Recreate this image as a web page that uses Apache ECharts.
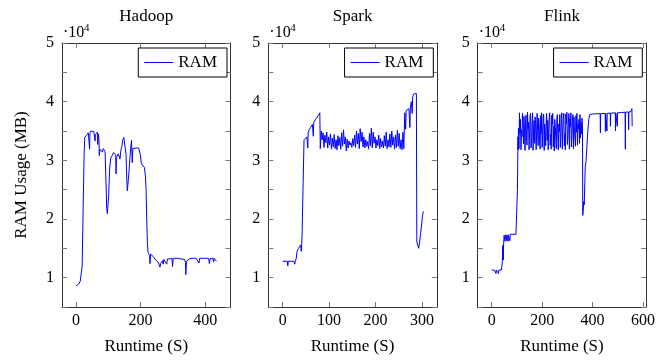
<!DOCTYPE html>
<html>
<head>
<meta charset="utf-8">
<script src="https://cdn.jsdelivr.net/npm/echarts@6/dist/echarts.min.js"></script>
<style>
  html, body { margin: 0; padding: 0; background: #fff; }
  #chart { width: 665px; height: 360px; }
</style>
</head>
<body>
<div id="chart"></div>
<script>
const titles = ["Hadoop", "Spark", "Flink"];
const xTicks = [[0, 200, 400], [0, 100, 200, 300], [0, 200, 400, 600]];
const xRanges = [[-43.5, 478.5], [-31, 332], [-55.7, 612.7]];
const yTickLabels = [10000, 20000, 30000, 40000, 50000];

// [runtime (s), RAM (MB)]
const hadoopRam = [
  [0, 8600], [4, 8550], [8, 8900], [13, 9400], [16, 9700], [19, 12000], [22, 22000], [25, 31000],
  [27, 33900], [29, 34100], [33, 34300], [36, 34500], [38, 34700], [40, 34400], [42, 31900], [43, 34600],
  [46, 35000], [49, 35100], [52, 35100], [55, 34900], [57, 34800], [59, 33300], [60, 34400], [62, 34700],
  [64, 34200], [66, 34800], [67, 32700], [69, 34500], [71, 33600], [72, 30800], [74, 31900], [77, 31800],
  [80, 31900], [82, 31400], [84, 32000], [86, 31800], [90, 31500], [93, 26000], [95, 21800], [97, 20900],
  [99, 20600], [101, 24000], [104, 28500], [107, 30300], [109, 30400], [112, 30800], [116, 31300], [120, 31200],
  [123, 31000], [124, 27700], [125, 30500], [128, 30800], [131, 31100], [134, 31400], [136, 30200], [139, 31800],
  [142, 32400], [145, 33500], [148, 33900], [151, 34100], [153, 33900], [155, 31000], [157, 27000], [159, 24800],
  [161, 25000], [164, 28000], [167, 30500], [170, 32500], [172, 33400], [174, 29600], [176, 32000], [178, 32300],
  [182, 32200], [186, 32100], [190, 32200], [194, 32100], [197, 31800], [199, 31000], [202, 29600], [205, 29200],
  [209, 29000], [212, 28800], [215, 27200], [217, 25000], [219, 20000], [221, 16000], [223, 14300], [226, 14200],
  [228, 13800], [229, 12400], [231, 14000], [235, 13900], [239, 13600], [243, 13300], [247, 13000], [251, 12800],
  [255, 12600], [258, 12500], [260, 11800], [262, 12400], [265, 12700], [268, 12900], [270, 12300], [272, 13100],
  [275, 13200], [278, 13100], [281, 12300], [283, 13200], [286, 13300], [290, 13200], [294, 13300], [297, 13300],
  [299, 11900], [301, 13300], [306, 13300], [312, 13300], [318, 13200], [324, 13200], [330, 13200], [336, 13100],
  [339, 12600], [340, 10500], [342, 12800], [345, 12700], [348, 13000], [351, 13200], [354, 13300], [360, 13300],
  [366, 13300], [372, 13300], [377, 13300], [381, 12500], [383, 13300], [390, 13300], [396, 13300], [402, 13300],
  [408, 13300], [411, 13300], [413, 12400], [415, 13200], [420, 13400], [424, 13300], [426, 12700], [428, 13300],
  [432, 13500], [435, 12800]
];

const sparkRam = [
  [0, 12800], [5, 12800], [10, 12800], [11, 12000], [12, 12800], [18, 12800], [24, 12800], [26, 12300],
  [27, 12800], [29, 13200], [31, 14500], [34, 15000], [37, 15300], [39, 15600], [40, 14500], [41, 15600],
  [42, 18000], [44, 26000], [46, 33500], [48, 33700], [50, 33800], [52, 34000], [54, 32100], [55, 34800],
  [57, 35200], [60, 35600], [62, 35900], [64, 36100], [66, 34100], [67, 36500], [70, 36800], [72, 37100],
  [74, 37300], [76, 37600], [78, 37900], [80, 38100], [81, 32000],
  [83, 35000], [85, 33500], [87, 34700], [89, 32200], [91, 34300], [93, 33000], [95, 34800], [97, 32100],
  [99, 34000], [101, 32600], [103, 34500], [105, 31900], [107, 33800], [109, 32300], [111, 34400], [113, 32000],
  [115, 33500], [117, 31800], [119, 34200], [121, 32500], [123, 33900], [125, 31900], [127, 34700], [129, 32400],
  [131, 35200], [133, 32800], [135, 34000], [137, 31600], [139, 33600], [141, 32100], [143, 33300], [145, 32600],
  [147, 33000], [149, 32200], [151, 33700], [153, 32500], [155, 34300], [157, 32200], [159, 35000], [161, 32800],
  [163, 34600], [165, 32000], [167, 35400], [169, 33200], [171, 34800], [173, 32300], [175, 34000], [177, 32100],
  [179, 33500], [181, 32400], [183, 33200], [185, 31900], [187, 34600], [189, 32500], [191, 35500], [193, 32100],
  [195, 34800], [197, 32900], [199, 34000], [201, 32100], [203, 33500], [205, 32500], [207, 34300], [209, 32000],
  [211, 33700], [213, 32300], [215, 33300], [217, 32100], [219, 34200], [221, 32400], [223, 34800], [225, 32000],
  [227, 33500], [229, 32300], [231, 34500], [233, 32200], [235, 35000], [237, 32600], [239, 34000], [241, 31900],
  [243, 34300], [245, 32200], [247, 35100], [249, 32400], [251, 34600], [253, 32000], [255, 33500], [257, 31800],
  [259, 34800], [261, 32000], [262, 31700],
  [263, 38100], [265, 35300], [266, 38500], [268, 38700], [270, 38800], [272, 38800], [274, 35600], [275, 38900],
  [277, 40000], [279, 38000], [280, 40800], [282, 41300], [285, 41400], [288, 41400], [289, 16100], [291, 15800],
  [293, 15000], [295, 16100], [297, 17500], [299, 18800], [301, 20500], [303, 21300]
];

const flinkRam = [
  [0, 11300], [5, 11300], [10, 11300], [15, 11300], [17, 10700], [18, 11300], [24, 11300], [27, 10700],
  [28, 11300], [34, 11300], [38, 11300], [40, 11900], [42, 12800], [44, 15500], [46, 13000], [47, 15600],
  [49, 17200], [51, 17300], [53, 16200], [54, 17300], [57, 17300], [59, 16300], [60, 17300], [63, 17300],
  [65, 16200], [66, 17300], [70, 17400], [72, 16300], [73, 17400], [78, 17400], [84, 17400], [90, 17400],
  [96, 17400], [100, 17400], [102, 25000], [104, 34000], [105, 31800],
  [106, 35500], [108, 32000], [110, 38100], [112, 34600], [114, 37000], [116, 31800], [118, 35200], [120, 34000],
  [122, 38000], [124, 36300], [126, 32800], [128, 37500], [130, 34900], [132, 31700], [134, 36000], [136, 37700],
  [138, 33200], [140, 32600], [142, 38200], [144, 35400], [146, 36500], [148, 31800], [150, 34300], [152, 37500],
  [154, 38000], [156, 32100], [158, 33900], [160, 36200], [162, 38100], [164, 31700], [166, 35400], [168, 36800],
  [170, 32900], [172, 37400], [174, 36300], [176, 31800], [178, 34800], [180, 38000], [182, 35000], [184, 32500],
  [186, 37200], [188, 36100], [190, 33000], [192, 31900], [194, 37600], [196, 34500], [198, 38100], [200, 32200],
  [202, 34700], [204, 37300], [206, 37900], [208, 31700], [210, 36200], [212, 35000], [214, 32500], [216, 37000],
  [218, 38000], [220, 33400], [222, 36800], [224, 31800], [226, 35300], [228, 37300], [230, 38100], [232, 32600],
  [234, 34400], [236, 31900], [238, 37700], [240, 36100], [242, 38000], [244, 32300], [246, 35800], [248, 31600],
  [250, 37000], [252, 35600], [254, 33900], [256, 32000], [258, 36600], [260, 37800], [262, 34500], [264, 31800],
  [266, 36200], [268, 34900], [270, 37800], [272, 32200], [274, 33900], [276, 37000], [278, 38100], [280, 31900],
  [282, 35300], [284, 37100], [286, 38000], [288, 32500], [290, 34500], [292, 31800], [294, 37900], [296, 36200],
  [298, 38200], [300, 32700], [302, 33800], [304, 36400], [306, 38000], [308, 31900], [310, 37100], [312, 35700],
  [314, 38100], [316, 32300], [318, 34300], [320, 36600], [322, 37800], [324, 32000], [326, 37400], [328, 35500],
  [330, 33700], [332, 32400], [334, 37600], [336, 34800], [338, 38000], [340, 32600], [342, 36200], [344, 35300],
  [346, 37000], [348, 32900], [350, 37800], [352, 33800], [354, 36500], [356, 34500], [358, 37200],
  [360, 35500], [361, 20600], [363, 21500], [365, 23000], [367, 22400], [369, 26000], [371, 29000], [374, 29800],
  [377, 32000], [381, 35000], [385, 37000], [389, 37800], [400, 37900], [420, 37950], [430, 37950], [431, 34700],
  [432, 37950], [450, 38000], [451, 34900], [452, 38000], [456, 38000], [457, 35000], [458, 38000], [465, 38050],
  [470, 38050], [471, 35800], [472, 38050], [490, 38100], [491, 35000], [492, 38100], [497, 38100], [498, 35800],
  [499, 38100], [515, 38150], [529, 38200], [530, 31900], [531, 38200], [542, 38250], [543, 35200], [544, 38250],
  [552, 38300], [555, 38300], [556, 38800], [557, 38500], [557, 35800]
];

const seriesData = [hadoopRam, sparkRam, flinkRam];

const font = "'Liberation Serif', serif";
const gridLeft = [62, 268.3, 477.7];
const gridWidth = 168.5;
const legendRight = [438, 231.7, 22.7];
const frameColor = "#333";
const tickColor = "#777";

const chart = echarts.init(document.getElementById("chart"));

const yMinorTicks = [];
for (let v = 5000; v <= 50000; v += 5000) yMinorTicks.push(v);

const grids = gridLeft.map((left) => ({ left, top: 43, width: gridWidth, height: 267 }));

const bottomAxes = titles.map((_, i) => ({
  type: "value",
  gridIndex: i,
  min: xRanges[i][0],
  max: xRanges[i][1],
  name: "Runtime (S)",
  nameLocation: "middle",
  nameGap: 31,
  nameTextStyle: { fontFamily: font, fontSize: 17, color: "#000" },
  axisLine: { show: true, onZero: false, lineStyle: { color: frameColor, width: 1 } },
  axisTick: { show: true, inside: true, length: 5, customValues: xTicks[i], lineStyle: { color: tickColor } },
  axisLabel: { customValues: xTicks[i], fontFamily: font, fontSize: 16, color: "#000", margin: 6 },
  splitLine: { show: false },
}));

const topAxes = titles.map((_, i) => ({
  type: "value",
  gridIndex: i,
  position: "top",
  min: xRanges[i][0],
  max: xRanges[i][1],
  axisLine: { show: true, onZero: false, lineStyle: { color: frameColor, width: 1 } },
  axisTick: { show: true, inside: true, length: 5, customValues: xTicks[i], lineStyle: { color: tickColor } },
  axisLabel: { show: false },
  splitLine: { show: false },
}));

const leftAxes = titles.map((_, i) => ({
  type: "value",
  gridIndex: i,
  min: 5000,
  max: 50000,
  interval: 5000,
  name: i === 0 ? "RAM Usage (MB)" : "",
  nameLocation: "middle",
  nameGap: 32,
  nameTextStyle: { fontFamily: font, fontSize: 17, color: "#000" },
  axisLine: { show: true, onZero: false, lineStyle: { color: frameColor, width: 1 } },
  axisTick: { show: true, inside: true, length: 5, customValues: yMinorTicks, lineStyle: { color: tickColor } },
  axisLabel: {
    customValues: yTickLabels,
    formatter: (v) => String(v / 10000),
    fontFamily: font,
    fontSize: 16,
    color: "#000",
    margin: 8,
  },
  splitLine: { show: false },
}));

const rightAxes = titles.map((_, i) => ({
  type: "value",
  gridIndex: i,
  position: "right",
  min: 5000,
  max: 50000,
  interval: 5000,
  axisLine: { show: true, onZero: false, lineStyle: { color: frameColor, width: 1 } },
  axisTick: { show: true, inside: true, length: 5, customValues: yMinorTicks, lineStyle: { color: tickColor } },
  axisLabel: { show: false },
  splitLine: { show: false },
}));

// plain line sample in the legend, no marker
const legends = titles.map((_, i) => ({
  data: [{ name: "RAM", icon: "rect" }],
  right: legendRight[i],
  top: 48,
  orient: "horizontal",
  itemWidth: 29,
  itemHeight: 1,
  padding: [6, 10, 6, 6],
  borderColor: "#000",
  borderWidth: 1,
  borderRadius: 0,
  backgroundColor: "#fff",
  selectedMode: false,
  textStyle: { fontFamily: font, fontSize: 17, color: "#000", lineHeight: 17 },
}));

const graphics = [];
grids.forEach((g, i) => {
  graphics.push({
    type: "text",
    x: g.left + g.width / 2,
    y: 17,
    style: { text: titles[i], fontFamily: font, fontSize: 17, fill: "#000", align: "center", verticalAlign: "middle" },
  });
  graphics.push({
    type: "text",
    x: g.left + 1,
    y: 33,
    style: { text: "·10", fontFamily: font, fontSize: 16, fill: "#000", align: "left", verticalAlign: "middle" },
  });
  graphics.push({
    type: "text",
    x: g.left + 22,
    y: 28.5,
    style: { text: "4", fontFamily: font, fontSize: 11, fill: "#000", align: "left", verticalAlign: "middle" },
  });
});

chart.setOption({
  animation: false,
  backgroundColor: "#fff",
  grid: grids,
  xAxis: bottomAxes.concat(topAxes),
  yAxis: leftAxes.concat(rightAxes),
  legend: legends,
  graphic: graphics,
  series: seriesData.map((data, i) => ({
    name: "RAM",
    type: "line",
    xAxisIndex: i,
    yAxisIndex: i,
    data,
    symbol: "none",
    color: "#0000ff",
    lineStyle: { color: "#0000ff", width: 1 },
    clip: true,
  })),
});
</script>
</body>
</html>
